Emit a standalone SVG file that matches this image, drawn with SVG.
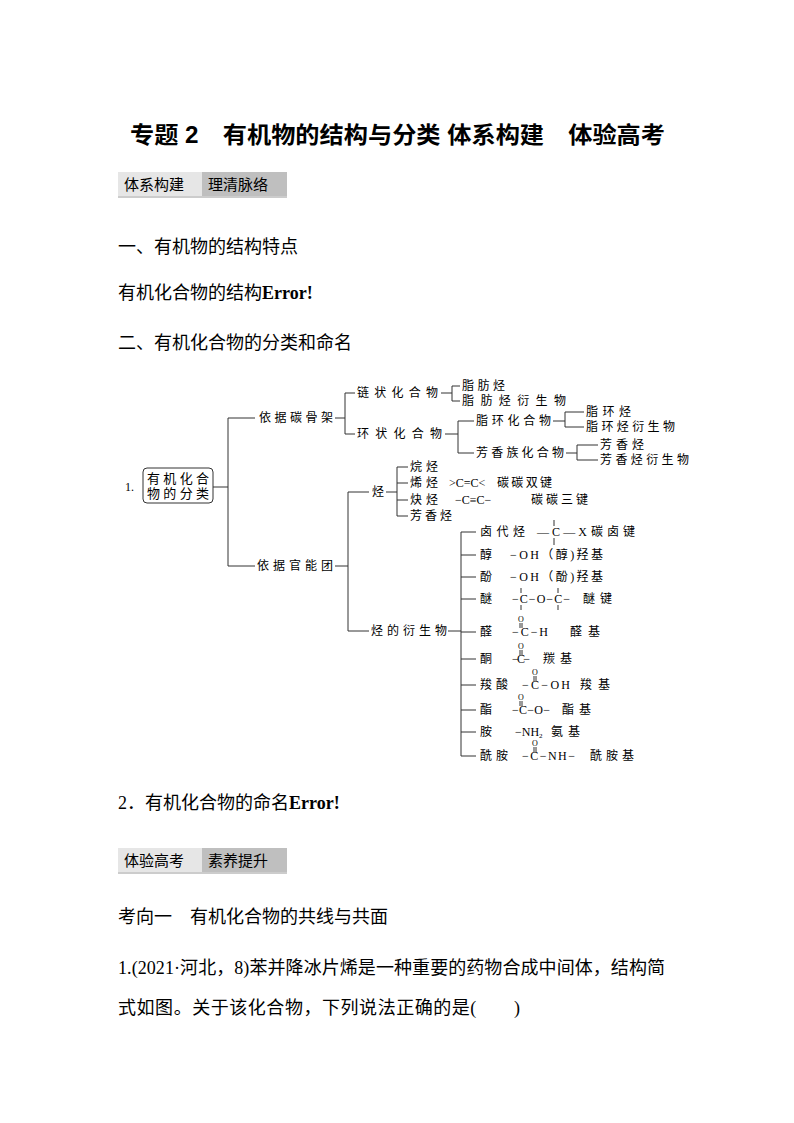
<svg xmlns="http://www.w3.org/2000/svg" width="794" height="1123" viewBox="0 0 794 1123">
<style>
text{font-family:"Liberation Serif","Noto Sans CJK SC",serif;fill:#000}
.t{font-size:18px}
.d{font-size:12px}
.s{font-size:8px}
.h{font-family:"Noto Sans CJK SC",sans-serif;font-size:15px}
line,path,polyline{stroke:#333;stroke-width:1;fill:none}
</style>
<rect width="794" height="1123" fill="#fff"/>
<text x="130" y="143" textLength="535" lengthAdjust="spacingAndGlyphs" style="font-family:'Liberation Sans','Noto Sans CJK SC',sans-serif;font-size:23px;font-weight:bold">专题 2　有机物的结构与分类 体系构建　体验高考</text>
<g id="bar1">
<rect x="118" y="172" width="84" height="24" fill="#e6e6e6"/>
<rect x="202" y="172" width="85" height="24" fill="#bfbfbf"/>
<line x1="118" y1="197" x2="287" y2="197" style="stroke:#999"/>
<text class="h" x="124" y="190">体系构建</text><text class="h" x="208" y="190">理清脉络</text>
</g>
<text class="t" x="118" y="253">一、有机物的结构特点</text>
<text class="t" x="118" y="299">有机化合物的结构<tspan font-weight="bold">Error!</tspan></text>
<text class="t" x="118" y="349">二、有机化合物的分类和命名</text>

<g id="connectors">
<line x1="213" y1="487" x2="228" y2="487"/>
<line x1="228" y1="418" x2="228" y2="566"/>
<line x1="228" y1="418" x2="255" y2="418"/>
<line x1="228" y1="566" x2="255" y2="566"/>
<line x1="335" y1="418" x2="345" y2="418"/>
<polyline points="355,393 345,393 345,434 355,434"/>
<line x1="441" y1="393" x2="452" y2="393"/>
<polyline points="460,386 452,386 452,401 460,401"/>
<line x1="445" y1="434" x2="458" y2="434"/>
<polyline points="474,421 458,421 458,453 474,453"/>
<line x1="553" y1="421" x2="565" y2="421"/>
<polyline points="584,412 565,412 565,427 584,427"/>
<line x1="566" y1="453" x2="577" y2="453"/>
<polyline points="598,445 577,445 577,460 598,460"/>
<line x1="335" y1="566" x2="348" y2="566"/>
<polyline points="369,492 348,492 348,631 369,631"/>
<line x1="386" y1="492" x2="397" y2="492"/>
<line x1="397" y1="467" x2="397" y2="516"/>
<line x1="397" y1="467" x2="408" y2="467"/>
<line x1="397" y1="483" x2="408" y2="483"/>
<line x1="397" y1="500" x2="408" y2="500"/>
<line x1="397" y1="516" x2="408" y2="516"/>
<line x1="448" y1="631" x2="461" y2="631"/>
<line x1="461" y1="532" x2="461" y2="756"/>
<line x1="461" y1="532" x2="476" y2="532"/>
<line x1="461" y1="555" x2="476" y2="555"/>
<line x1="461" y1="577" x2="476" y2="577"/>
<line x1="461" y1="599" x2="476" y2="599"/>
<line x1="461" y1="632" x2="476" y2="632"/>
<line x1="461" y1="659" x2="476" y2="659"/>
<line x1="461" y1="685" x2="476" y2="685"/>
<line x1="461" y1="710" x2="476" y2="710"/>
<line x1="461" y1="732" x2="476" y2="732"/>
<line x1="461" y1="756" x2="476" y2="756"/>
</g>

<text class="d" x="125" y="491">1.</text>
<g id="root"><rect x="143" y="468" width="70" height="35" rx="4" fill="#fff" stroke="#333"/>
<text x="147" y="483" font-size="13" textLength="62" lengthAdjust="spacing">有机化合</text>
<text x="147" y="498" font-size="13" textLength="62" lengthAdjust="spacing">物的分类</text></g>
<g id="n1"><text class="d" x="259" y="422" textLength="74" lengthAdjust="spacing">依据碳骨架</text></g>
<g id="n2"><text class="d" x="257" y="570" textLength="76" lengthAdjust="spacing">依据官能团</text></g>
<g id="n3"><text class="d" x="357" y="397" textLength="81" lengthAdjust="spacing">链状化合物</text></g>
<g id="n4"><text class="d" x="357" y="438" textLength="85" lengthAdjust="spacing">环状化合物</text></g>
<g id="n5"><text class="d" x="462" y="390" textLength="43" lengthAdjust="spacing">脂肪烃</text><text class="d" x="462" y="405" textLength="104" lengthAdjust="spacing">脂肪烃衍生物</text></g>
<g id="n6"><text class="d" x="476" y="425" textLength="75" lengthAdjust="spacing">脂环化合物</text></g>
<g id="n7"><text class="d" x="476" y="457" textLength="88" lengthAdjust="spacing">芳香族化合物</text></g>
<g id="n8"><text class="d" x="586" y="416" textLength="45" lengthAdjust="spacing">脂环烃</text><text class="d" x="586" y="431" textLength="89" lengthAdjust="spacing">脂环烃衍生物</text></g>
<g id="n9"><text class="d" x="600" y="449" textLength="44" lengthAdjust="spacing">芳香烃</text><text class="d" x="600" y="464" textLength="89" lengthAdjust="spacing">芳香烃衍生物</text></g>
<g id="n10"><text class="d" x="372" y="496">烃</text></g>
<g id="n11"><text class="d" x="371" y="635" textLength="76" lengthAdjust="spacing">烃的衍生物</text></g>
<g id="n12">
<text class="d" x="410" y="471" textLength="28" lengthAdjust="spacing">烷烃</text>
<text class="d" x="410" y="487" textLength="28" lengthAdjust="spacing">烯烃</text>
<text class="d" x="449" y="487">&gt;C=C&lt;</text>
<text class="d" x="497" y="487" textLength="55" lengthAdjust="spacing">碳碳双键</text>
<text class="d" x="410" y="504" textLength="28" lengthAdjust="spacing">炔烃</text>
<text class="d" x="455" y="504">−C≡C−</text>
<text class="d" x="531" y="504" textLength="57" lengthAdjust="spacing">碳碳三键</text>
<text class="d" x="410" y="520" textLength="42" lengthAdjust="spacing">芳香烃</text>
</g>
<g id="n13">
<text class="d" x="480" y="536" textLength="45" lengthAdjust="spacing">卤代烃</text>
<text class="d" x="537" y="536" textLength="50" lengthAdjust="spacing">—C—X</text><line x1="554" y1="520" x2="554" y2="526"/><line x1="554" y1="538" x2="554" y2="545"/>
<text class="d" x="591" y="536" textLength="44" lengthAdjust="spacing">碳卤键</text>
<text class="d" x="480" y="559">醇</text><text class="d" x="510" y="559" textLength="93" lengthAdjust="spacing">−OH（醇)羟基</text>
<text class="d" x="480" y="581">酚</text><text class="d" x="510" y="581" textLength="93" lengthAdjust="spacing">−OH（酚)羟基</text>
<text class="d" x="480" y="603">醚</text><text class="d" x="512" y="603" textLength="58" lengthAdjust="spacing">−C−O−C−</text><text class="d" x="583" y="603" textLength="29" lengthAdjust="spacing">醚键</text>
<line x1="521" y1="588" x2="521" y2="593"/><line x1="521" y1="605" x2="521" y2="610"/>
<line x1="558" y1="588" x2="558" y2="593"/><line x1="558" y1="605" x2="558" y2="610"/>
<text class="d" x="480" y="636">醛</text><text class="d" x="512" y="636" textLength="36" lengthAdjust="spacing">−C−H</text><text class="d" x="570" y="636" textLength="30" lengthAdjust="spacing">醛基</text>
<text class="s" x="521" y="622" text-anchor="middle">O</text><line x1="520" y1="623" x2="520" y2="628"/><line x1="522" y1="623" x2="522" y2="628"/>
<text class="d" x="480" y="663">酮</text><text class="d" x="512" y="663" textLength="18" lengthAdjust="spacing">−C−</text><text class="d" x="543" y="663" textLength="29" lengthAdjust="spacing">羰基</text>
<text class="s" x="521" y="649" text-anchor="middle">O</text><line x1="520" y1="650" x2="520" y2="655"/><line x1="522" y1="650" x2="522" y2="655"/>
<text class="d" x="480" y="689" textLength="28" lengthAdjust="spacing">羧酸</text><text class="d" x="522" y="689" textLength="48" lengthAdjust="spacing">−C−OH</text><text class="d" x="580" y="689" textLength="30" lengthAdjust="spacing">羧基</text>
<text class="s" x="535" y="675" text-anchor="middle">O</text><line x1="534" y1="676" x2="534" y2="681"/><line x1="536" y1="676" x2="536" y2="681"/>
<text class="d" x="480" y="714">酯</text><text class="d" x="512" y="714" textLength="38" lengthAdjust="spacing">−C−O−</text><text class="d" x="562" y="714" textLength="29" lengthAdjust="spacing">酯基</text>
<text class="s" x="521" y="700" text-anchor="middle">O</text><line x1="520" y1="701" x2="520" y2="706"/><line x1="522" y1="701" x2="522" y2="706"/>
<text class="d" x="480" y="736">胺</text><text class="d" x="515" y="736">−NH<tspan font-size="7" dy="2">2</tspan></text><text class="d" x="551" y="736" textLength="29" lengthAdjust="spacing">氨基</text>
<text class="d" x="480" y="760" textLength="28" lengthAdjust="spacing">酰胺</text><text class="d" x="522" y="760" textLength="53" lengthAdjust="spacing">−C−NH−</text><text class="d" x="590" y="760" textLength="44" lengthAdjust="spacing">酰胺基</text>
<text class="s" x="535" y="746" text-anchor="middle">O</text><line x1="534" y1="747" x2="534" y2="752"/><line x1="536" y1="747" x2="536" y2="752"/>
</g>

<text class="t" x="118" y="809">2．有机化合物的命名<tspan font-weight="bold">Error!</tspan></text>
<g id="bar2">
<rect x="118" y="848" width="84" height="24" fill="#e6e6e6"/>
<rect x="202" y="848" width="85" height="24" fill="#bfbfbf"/>
<line x1="118" y1="873" x2="287" y2="873" style="stroke:#999"/>
<text class="h" x="124" y="866">体验高考</text><text class="h" x="208" y="866">素养提升</text>
</g>
<text class="t" x="118" y="923">考向一　有机化合物的共线与共面</text>
<text class="t" x="118" y="974" textLength="547" lengthAdjust="spacing">1.(2021·河北，8)苯并降冰片烯是一种重要的药物合成中间体，结构简</text>
<text class="t" x="118" y="1014" textLength="402" lengthAdjust="spacing">式如图。关于该化合物，下列说法正确的是(　　)</text>
</svg>
